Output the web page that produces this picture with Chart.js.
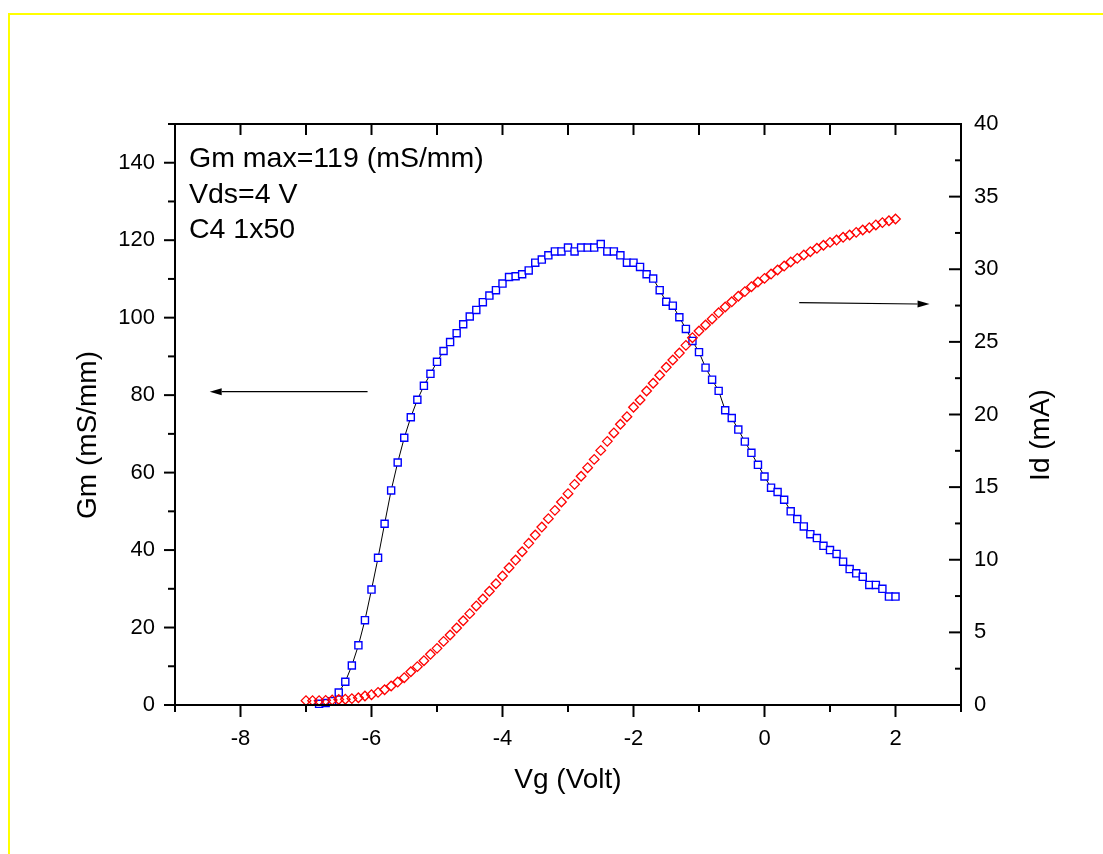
<!DOCTYPE html>
<html>
<head>
<meta charset="utf-8">
<script src="https://cdn.jsdelivr.net/npm/chart.js@4.4.1/dist/chart.umd.min.js"></script>
<style>
  html, body { margin: 0; background: #fff; }
  canvas { display: block; }
</style>
</head>
<body>
<canvas id="chart" width="1103" height="854"></canvas>
<script>
// gate voltage sweep (V)
const vg = [
  -7.0, -6.9, -6.8, -6.7, -6.6, -6.5, -6.4, -6.3, -6.2, -6.1,
  -6.0, -5.9, -5.8, -5.7, -5.6, -5.5, -5.4, -5.3, -5.2, -5.1,
  -5.0, -4.9, -4.8, -4.7, -4.6, -4.5, -4.4, -4.3, -4.2, -4.1,
  -4.0, -3.9, -3.8, -3.7, -3.6, -3.5, -3.4, -3.3, -3.2, -3.1,
  -3.0, -2.9, -2.8, -2.7, -2.6, -2.5, -2.4, -2.3, -2.2, -2.1,
  -2.0, -1.9, -1.8, -1.7, -1.6, -1.5, -1.4, -1.3, -1.2, -1.1,
  -1.0, -0.9, -0.8, -0.7, -0.6, -0.5, -0.4, -0.3, -0.2, -0.1,
  0.0, 0.1, 0.2, 0.3, 0.4, 0.5, 0.6, 0.7, 0.8, 0.9,
  1.0, 1.1, 1.2, 1.3, 1.4, 1.5, 1.6, 1.7, 1.8, 1.9,
  2.0
];

// transconductance (mS/mm)
const gm = [
  null, null, 0.3, 0.5, 1.0, 3.2, 6.0, 10.2, 15.4, 21.9,
  29.8, 38.0, 46.8, 55.4, 62.6, 69.0, 74.3, 78.8, 82.4, 85.5,
  88.6, 91.4, 93.7, 96.0, 98.3, 100.3, 102.0, 104.0, 105.7, 107.1,
  108.8, 110.5, 110.7, 111.2, 112.2, 114.2, 115.0, 116.1, 117.1, 117.1,
  118.1, 117.1, 118.1, 118.1, 118.1, 119.0, 117.1, 117.1, 116.1, 114.2,
  114.2, 113.1, 111.2, 110.1, 107.1, 104.1, 103.1, 100.1, 97.1, 94.0,
  91.1, 87.1, 84.0, 81.1, 76.1, 74.1, 71.1, 68.0, 65.1, 62.0,
  59.0, 56.1, 55.0, 53.0, 50.0, 48.0, 46.1, 44.1, 43.1, 41.1,
  40.0, 39.0, 37.0, 35.1, 34.0, 33.1, 31.0, 31.0, 30.0, 28.0,
  28.0
];

// drain current (mA)
const id = [
  0.30, 0.30, 0.30, 0.32, 0.34, 0.38, 0.40, 0.44, 0.50, 0.62,
  0.71, 0.87, 1.05, 1.31, 1.58, 1.88, 2.29, 2.64, 3.05, 3.49,
  3.90, 4.38, 4.82, 5.30, 5.80, 6.29, 6.82, 7.30, 7.83, 8.35,
  8.88, 9.45, 9.98, 10.55, 11.13, 11.70, 12.25, 12.83, 13.40, 13.98,
  14.55, 15.19, 15.75, 16.34, 16.91, 17.53, 18.15, 18.73, 19.33, 19.85,
  20.50, 21.00, 21.62, 22.15, 22.70, 23.25, 23.75, 24.23, 24.76, 25.29,
  25.75, 26.16, 26.58, 27.00, 27.40, 27.76, 28.14, 28.46, 28.80, 29.12,
  29.37, 29.67, 29.95, 30.22, 30.50, 30.75, 30.98, 31.21, 31.44, 31.65,
  31.85, 32.01, 32.20, 32.36, 32.54, 32.70, 32.86, 33.05, 33.21, 33.34,
  33.46
];

const xTicks = [-8, -6, -4, -2, 0, 2];
const xMinor = [-9, -7, -5, -3, -1, 1, 3];
const gmTicks = [0, 20, 40, 60, 80, 100, 120, 140];
const gmMinor = [10, 30, 50, 70, 90, 110, 130, 150];
const idTicks = [0, 5, 10, 15, 20, 25, 30, 35, 40];
const idMinor = [2.5, 7.5, 12.5, 17.5, 22.5, 27.5, 32.5, 37.5];
const notes = ["Gm max=119 (mS/mm)", "Vds=4 V", "C4 1x50"];

const FONT = '"Liberation Sans", Arial, sans-serif';

function toPoints(ys) {
  return vg.map((x, i) => ({ x: x, y: ys[i] })).filter(p => p.y !== null);
}

function arrow(ctx, x1, y1, x2, y2) {
  const a = Math.atan2(y2 - y1, x2 - x1);
  const len = 12, half = 3.5;
  ctx.save();
  ctx.strokeStyle = "#000";
  ctx.fillStyle = "#000";
  ctx.lineWidth = 1.2;
  ctx.beginPath();
  ctx.moveTo(x1, y1);
  ctx.lineTo(x2 - Math.cos(a) * len, y2 - Math.sin(a) * len);
  ctx.stroke();
  ctx.beginPath();
  ctx.moveTo(x2, y2);
  ctx.lineTo(x2 - Math.cos(a) * len - Math.sin(a) * half, y2 - Math.sin(a) * len + Math.cos(a) * half);
  ctx.lineTo(x2 - Math.cos(a) * len + Math.sin(a) * half, y2 - Math.sin(a) * len - Math.cos(a) * half);
  ctx.closePath();
  ctx.fill();
  ctx.restore();
}

// frame, ticks, labels and notes, all placed through the chart scales
const axesPlugin = {
  id: "originAxes",
  beforeDraw(chart) {
    const ctx = chart.ctx;
    ctx.save();
    ctx.fillStyle = "#fff";
    ctx.fillRect(0, 0, chart.width, chart.height);
    ctx.fillStyle = "#ffff00";
    ctx.fillRect(8, 13, chart.width - 8, 2);
    ctx.fillRect(8, 13, 2, chart.height - 13);
    ctx.restore();
  },
  afterDraw(chart) {
    const ctx = chart.ctx;
    const { left, right, top, bottom } = chart.chartArea;
    const sx = chart.scales.x, sy = chart.scales.y, sy1 = chart.scales.y1;
    ctx.save();
    ctx.strokeStyle = "#000";
    ctx.lineWidth = 2;
    ctx.lineCap = "square";
    ctx.strokeRect(left, top, right - left, bottom - top);

    ctx.lineCap = "butt";
    const tick = (x1, y1, x2, y2) => {
      ctx.beginPath();
      ctx.moveTo(x1, y1);
      ctx.lineTo(x2, y2);
      ctx.stroke();
    };
    // bottom (outward) and top (inward)
    xTicks.forEach(v => {
      const px = sx.getPixelForValue(v);
      tick(px, bottom, px, bottom + 12);
      tick(px, top, px, top + 11);
    });
    xMinor.forEach(v => {
      const px = sx.getPixelForValue(v);
      tick(px, bottom, px, bottom + 7);
      tick(px, top, px, top + 11);
    });
    // left (outward)
    gmTicks.forEach(v => {
      const py = sy.getPixelForValue(v);
      tick(left, py, left - 11, py);
    });
    gmMinor.forEach(v => {
      const py = sy.getPixelForValue(v);
      tick(left, py, left - 7, py);
    });
    // right (inward)
    idTicks.forEach(v => {
      const py = sy1.getPixelForValue(v);
      tick(right, py, right - 12, py);
    });
    idMinor.forEach(v => {
      const py = sy1.getPixelForValue(v);
      tick(right, py, right - 6, py);
    });

    ctx.fillStyle = "#000";
    ctx.font = "22px " + FONT;
    ctx.textAlign = "center";
    ctx.textBaseline = "alphabetic";
    xTicks.forEach(v => ctx.fillText(String(v), sx.getPixelForValue(v), bottom + 40));
    ctx.textAlign = "right";
    ctx.textBaseline = "middle";
    gmTicks.forEach(v => ctx.fillText(String(v), left - 20, sy.getPixelForValue(v)));
    ctx.textAlign = "left";
    idTicks.forEach(v => ctx.fillText(String(v), right + 13, sy1.getPixelForValue(v)));

    // axis titles
    ctx.font = "28px " + FONT;
    ctx.textAlign = "center";
    ctx.textBaseline = "middle";
    ctx.fillText("Vg (Volt)", (left + right) / 2, bottom + 75);
    ctx.save();
    ctx.translate(88, 435);
    ctx.rotate(-Math.PI / 2);
    ctx.fillText("Gm (mS/mm)", 0, 0);
    ctx.restore();
    ctx.save();
    ctx.translate(1041, 435);
    ctx.rotate(-Math.PI / 2);
    ctx.fillText("Id (mA)", 0, 0);
    ctx.restore();

    // notes in the upper left corner
    ctx.font = "28.5px " + FONT;
    ctx.textAlign = "left";
    ctx.textBaseline = "alphabetic";
    notes.forEach((t, i) => ctx.fillText(t, left + 14, top + 43 + i * 35.5));

    // arrows pointing to each curve's axis
    arrow(ctx, sx.getPixelForValue(-6.06), sy.getPixelForValue(80.9),
               sx.getPixelForValue(-8.47), sy.getPixelForValue(80.9));
    arrow(ctx, sx.getPixelForValue(0.53), sy1.getPixelForValue(27.7),
               sx.getPixelForValue(2.52), sy1.getPixelForValue(27.6));
    ctx.restore();
  }
};

new Chart(document.getElementById("chart"), {
  type: "scatter",
  data: {
    datasets: [
      {
        label: "Id",
        data: toPoints(id),
        yAxisID: "y1",
        showLine: false,
        pointStyle: "rectRot",
        pointRadius: 4.8,
        pointBorderWidth: 1.3,
        pointBorderColor: "#ff0000",
        pointBackgroundColor: "rgba(255,255,255,0)",
        clip: false,
        order: 0
      },
      {
        label: "Gm",
        data: toPoints(gm),
        yAxisID: "y",
        showLine: true,
        tension: 0,
        borderColor: "#000",
        borderWidth: 1,
        pointStyle: "rect",
        pointRadius: 5,
        pointBorderWidth: 1.4,
        pointBorderColor: "#0000ff",
        pointBackgroundColor: "#fff",
        clip: false,
        order: 1
      }
    ]
  },
  options: {
    responsive: false,
    animation: false,
    events: [],
    layout: {
      padding: { left: 175, right: 142, top: 124, bottom: 149 }
    },
    scales: {
      x: { type: "linear", min: -9, max: 3, display: false },
      y: { type: "linear", min: 0, max: 150, display: false },
      y1: { type: "linear", position: "right", min: 0, max: 40, display: false }
    },
    plugins: {
      legend: { display: false },
      tooltip: { enabled: false }
    }
  },
  plugins: [axesPlugin]
});
</script>
</body>
</html>
